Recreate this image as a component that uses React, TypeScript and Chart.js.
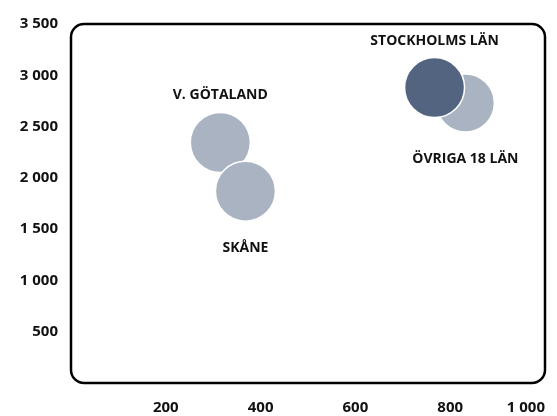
import React, { useEffect, useRef } from "react";
import { Chart, registerables } from "chart.js";

Chart.register(...registerables);

// listed top-most first (Chart.js paints the first dataset last)
const regions = ["STOCKHOLMS LÄN", "ÖVRIGA 18 LÄN", "SKÅNE", "V. GÖTALAND"];
const xValues = [767, 832, 368, 315];
const yValues = [2880, 2730, 1870, 2345];
const bubbleSizes = [30, 29, 30, 30];
const colors = ["#536481", "#A9B3C2", "#A9B3C2", "#A9B3C2"];
const labelPos = ["above", "below", "below", "above"];
const xTicks = [0, 200, 400, 600, 800, 1000];
const yTicks = [0, 500, 1000, 1500, 2000, 2500, 3000, 3500];

const fmt = (v: number) =>
  v === 0 ? "" : String(v).replace(/\B(?=(\d{3})+(?!\d))/g, " ");

const FONT = "'Open Sans', Lato, sans-serif";

const frameAndLabels = {
  id: "frameAndLabels",
  afterDatasetsDraw(chart: any) {
    const { ctx, chartArea } = chart;
    ctx.save();
    ctx.strokeStyle = "#000";
    ctx.lineWidth = 2.5;
    ctx.beginPath();
    const l = chartArea.left, t = chartArea.top;
    const w = chartArea.right - chartArea.left, h = chartArea.bottom - chartArea.top;
    (ctx as any).roundRect(l, t, w, h, 13);
    ctx.stroke();
    ctx.fillStyle = "#111";
    ctx.font = `bold 14px ${FONT}`;
    ctx.textAlign = "center";
    ctx.textBaseline = "middle";
    chart.data.datasets.forEach((ds: any, i: number) => {
      const meta = chart.getDatasetMeta(i);
      const el = meta.data[0];
      const r = ds.data[0].r;
      const dy = labelPos[i] === "above" ? -(r + 17) : r + 27;
      ctx.fillText(ds.label, el.x, el.y + dy);
    });
    ctx.restore();
  },
};

export default function App() {
  const ref = useRef<HTMLCanvasElement>(null);
  useEffect(() => {
    if (!ref.current) return;
    const chart = new Chart(ref.current, {
      type: "bubble",
      data: {
        datasets: regions.map((name, i) => ({
          label: name,
          data: [{ x: xValues[i], y: yValues[i], r: bubbleSizes[i] }],
          backgroundColor: colors[i],
          borderColor: "#FFFFFF",
          borderWidth: 1.5,
        })),
      },
      options: {
        animation: false,
        responsive: false,
        maintainAspectRatio: false,
        layout: { autoPadding: false, padding: { top: 24, right: 12, left: 0, bottom: 0 } },
        plugins: { legend: { display: false }, tooltip: { enabled: false } },
        scales: {
          x: {
            type: "linear",
            min: 0,
            max: 1000,
            afterBuildTicks: (s: any) => {
              s.ticks = xTicks.map((v) => ({ value: v }));
            },
            afterFit: (s: any) => {
              s.height = 33;
            },
            grid: { display: false, drawTicks: true, tickLength: 16 },
            border: { display: false },
            ticks: {
              align: "inner",
              padding: 0,
              color: "#111",
              font: { family: FONT, size: 15, weight: "bold" },
              callback: (v: any) => fmt(Number(v)),
            },
          },
          y: {
            type: "linear",
            min: 0,
            max: 3500,
            afterBuildTicks: (s: any) => {
              s.ticks = yTicks.map((v) => ({ value: v }));
            },
            afterFit: (s: any) => {
              s.width = 71;
            },
            grid: { display: false, drawTicks: true, tickLength: 13 },
            border: { display: false },
            ticks: {
              padding: 0,
              color: "#111",
              font: { family: FONT, size: 15, weight: "bold" },
              callback: (v: any) => fmt(Number(v)),
            },
          },
        },
      } as any,
      plugins: [frameAndLabels],
    });
    return () => chart.destroy();
  }, []);
  return (
    <div style={{ position: "fixed", left: 0, top: 0, width: 557, height: 416, background: "#fff" }}>
      <canvas ref={ref} width={557} height={416} style={{ width: 557, height: 416 }} />
    </div>
  );
}
